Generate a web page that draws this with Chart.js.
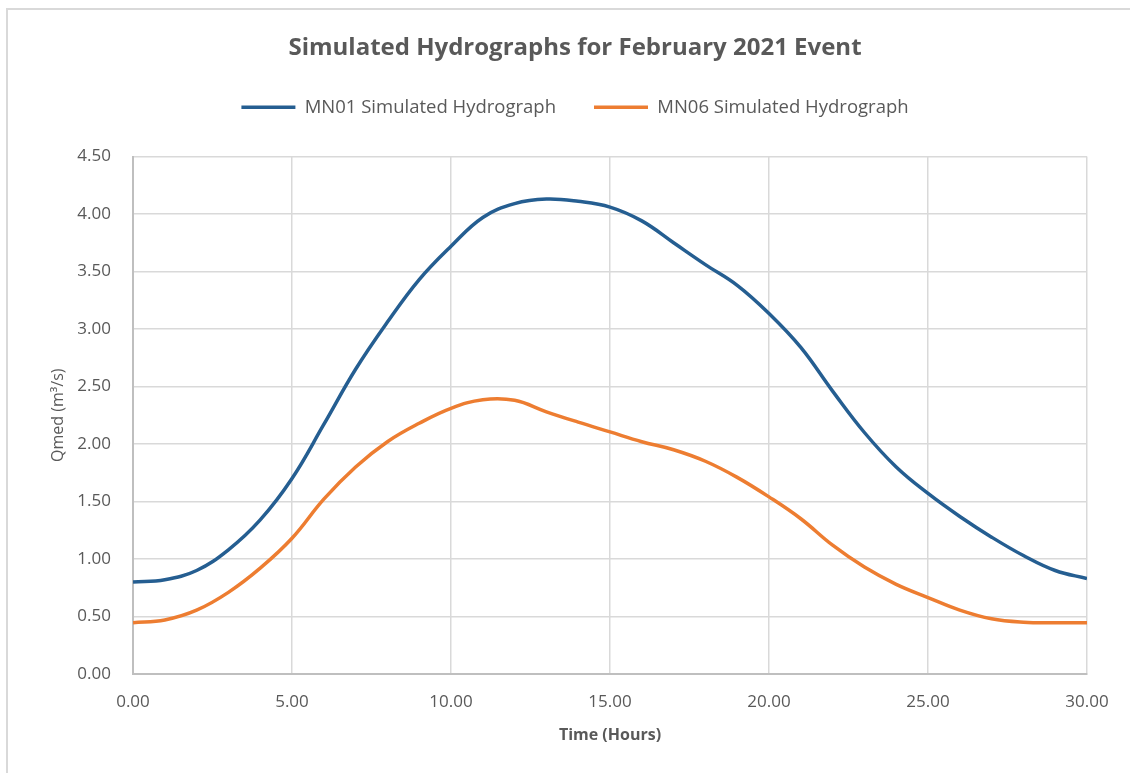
<!DOCTYPE html>
<html>
<head>
<meta charset="utf-8">
<title>Simulated Hydrographs</title>
<script src="https://cdn.jsdelivr.net/npm/chart.js@4.4.1/dist/chart.umd.min.js"></script>
<style>
  html, body { margin: 0; padding: 0; background: #fff; overflow: hidden; }
  #frame { position: absolute; left: 6px; top: 8px; width: 1200px; height: 900px; border: 2px solid #d9d9d9; box-sizing: border-box; }
  #wrap { position: absolute; left: 0; top: 0; width: 1130px; height: 773px; }
</style>
</head>
<body>
<div id="frame"></div>
<div id="wrap"><canvas id="myCanvas" width="1130" height="773"></canvas></div>
<script>
// hourly flow values for both gauges
const hours = [0, 1, 2, 3, 4, 5, 6, 7, 8, 9, 10, 11, 12, 13, 14, 15, 16, 17, 18, 19, 20, 21, 22, 23, 24, 25, 26, 27, 28, 29, 30]
const mn01 = [0.80, 0.82, 0.90, 1.08, 1.34, 1.70, 2.17, 2.65, 3.06, 3.43, 3.72, 3.97, 4.09, 4.13, 4.11, 4.06, 3.94, 3.75, 3.56, 3.38, 3.135, 2.84, 2.46, 2.10, 1.80, 1.57, 1.37, 1.19, 1.03, 0.90, 0.83]
const mn06 = [0.445, 0.47, 0.555, 0.71, 0.92, 1.18, 1.52, 1.80, 2.02, 2.18, 2.31, 2.385, 2.38, 2.28, 2.19, 2.105, 2.02, 1.95, 1.85, 1.71, 1.54, 1.35, 1.12, 0.93, 0.78, 0.665, 0.556, 0.48, 0.45, 0.445, 0.445]

const seriesNames = ['MN01 Simulated Hydrograph', 'MN06 Simulated Hydrograph']
const xTicks = [0, 5, 10, 15, 20, 25, 30]
const yTicks = [0, 0.5, 1, 1.5, 2, 2.5, 3, 3.5, 4, 4.5]

const textColor = '#595959'
const gridColor = '#d9d9d9'
const axisColor = '#bfbfbf'

Chart.defaults.font.family = "'Open Sans', sans-serif"
Chart.defaults.color = textColor

function toPoints(values) {
  return hours.map((h, i) => ({ x: h, y: values[i] }))
}

function createLineChart() {
  const context = document.getElementById('myCanvas').getContext('2d')

  new Chart(context, {
    type: 'line',
    data: {
      datasets: [
        {
          label: seriesNames[0],
          data: toPoints(mn01),
          borderColor: '#255e91',
          backgroundColor: '#255e91',
          borderWidth: 3.5,
          pointRadius: 0,
          tension: 0.4,
          xAxisID: 'x',
          yAxisID: 'y'
        },
        {
          label: seriesNames[1],
          data: toPoints(mn06),
          borderColor: '#ed7d31',
          backgroundColor: '#ed7d31',
          borderWidth: 3.5,
          pointRadius: 0,
          tension: 0.4,
          xAxisID: 'x',
          yAxisID: 'y'
        }
      ]
    },
    options: {
      responsive: false,
      animation: false,
      layout: { padding: { left: 63, right: 43, top: 0, bottom: 0 } },
      plugins: {
        title: {
          display: true,
          text: 'Simulated Hydrographs for February 2021 Event',
          color: textColor,
          font: { size: 24, weight: 'bold', lineHeight: 1 },
          padding: { top: 36, bottom: 0 }
        },
        legend: {
          labels: {
            usePointStyle: true,
            pointStyle: 'line',
            pointStyleWidth: 54,
            padding: 38,
            color: textColor,
            font: { size: 18.5 }
          }
        },
        tooltip: { enabled: false }
      },
      scales: {
        x: {
          type: 'linear',
          position: 'bottom',
          min: 0,
          max: 30,
          afterBuildTicks: (s) => { s.ticks = xTicks.map(v => ({ value: v })) },
          ticks: { padding: 18, font: { size: 17 }, callback: (v) => Number(v).toFixed(2) },
          grid: { color: gridColor, lineWidth: 1.5, drawTicks: false },
          border: { color: axisColor, width: 2 },
          title: {
            display: true,
            text: 'Time (Hours)',
            font: { size: 16, weight: 'bold' },
            padding: { top: 0, bottom: 28 }
          },
          afterFit: (s) => { s.height = 99 }
        },
        y: {
          min: 0,
          max: 4.5,
          afterBuildTicks: (s) => { s.ticks = yTicks.map(v => ({ value: v })) },
          ticks: { padding: 22, font: { size: 17 }, callback: (v) => Number(v).toFixed(2) },
          grid: { color: gridColor, lineWidth: 1.5, drawTicks: false },
          border: { color: axisColor, width: 2 },
          title: {
            display: true,
            text: 'Qmed (m³/s)',
            font: { size: 16 },
            padding: { top: -14, bottom: 0 }
          },
          afterFit: (s) => { s.width = 70 }
        },
        // empty band between legend and plot
        spacer: {
          type: 'linear',
          position: 'top',
          display: true,
          ticks: { display: false },
          grid: { display: false },
          border: { display: false },
          afterFit: (s) => { s.height = 30 }
        }
      }
    }
  })
}

createLineChart()
</script>
</body>
</html>
